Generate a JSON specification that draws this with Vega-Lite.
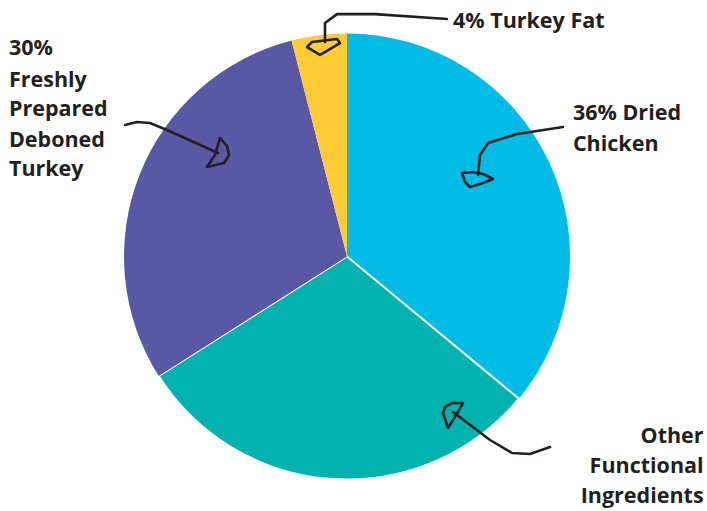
{
  "$schema": "https://vega.github.io/schema/vega-lite/v6.json",
  "autosize": {"type": "fit", "contains": "padding"},
  "width": 707,
  "height": 511,
  "padding": 0,
  "background": "white",
  "config": {"view": {"stroke": null}},
  "datasets": {
    "slices": [
      {"k": "Chicken", "v": 36, "o": 1},
      {"k": "Other", "v": 30, "o": 2},
      {"k": "Turkey", "v": 30, "o": 3},
      {"k": "Fat", "v": 4, "o": 4}
    ],
    "stems": [
      {"p": "fat", "i": 1, "x": 44.84, "y": 106.5},
      {"p": "fat", "i": 2, "x": 12.56, "y": 108.7},
      {"p": "fat", "i": 3, "x": -4.48, "y": 108.7},
      {"p": "fat", "i": 4, "x": -9.87, "y": 104.7},
      {"p": "fat", "i": 5, "x": -9.87, "y": 96.2},
      {"p": "chk", "i": 1, "x": 96.86, "y": 58.07},
      {"p": "chk", "i": 2, "x": 76.23, "y": 54.93},
      {"p": "chk", "i": 3, "x": 63.23, "y": 50.9},
      {"p": "chk", "i": 4, "x": 59.64, "y": 45.52},
      {"p": "chk", "i": 5, "x": 58.74, "y": 36.55},
      {"p": "tur", "i": 1, "x": -99.55, "y": 58.97},
      {"p": "tur", "i": 2, "x": -94.17, "y": 60.31},
      {"p": "tur", "i": 3, "x": -88.34, "y": 59.87},
      {"p": "tur", "i": 4, "x": -80.72, "y": 56.73},
      {"p": "tur", "i": 5, "x": -57.85, "y": 46.41},
      {"p": "oth", "i": 1, "x": 91.03, "y": -85.43},
      {"p": "oth", "i": 2, "x": 82.06, "y": -88.57},
      {"p": "oth", "i": 3, "x": 73.99, "y": -88.12},
      {"p": "oth", "i": 4, "x": 64.13, "y": -82.29},
      {"p": "oth", "i": 5, "x": 47.53, "y": -69.73}
    ],
    "loops": [
      {"p": "fat", "i": 1, "x": -17.94, "y": 93.9},
      {"p": "fat", "i": 2, "x": -15.7, "y": 96.2},
      {"p": "fat", "i": 3, "x": -4.48, "y": 97.5},
      {"p": "fat", "i": 4, "x": -3.14, "y": 95.7},
      {"p": "fat", "i": 5, "x": -12.11, "y": 90.4},
      {"p": "chk", "i": 1, "x": 51.57, "y": 37.44},
      {"p": "chk", "i": 2, "x": 56.5, "y": 37.89},
      {"p": "chk", "i": 3, "x": 60.99, "y": 37.0},
      {"p": "chk", "i": 4, "x": 65.47, "y": 34.75},
      {"p": "chk", "i": 5, "x": 60.99, "y": 32.96},
      {"p": "chk", "i": 6, "x": 55.16, "y": 31.17},
      {"p": "chk", "i": 7, "x": 52.91, "y": 33.41},
      {"p": "tur", "i": 1, "x": -62.78, "y": 40.13},
      {"p": "tur", "i": 2, "x": -59.19, "y": 45.52},
      {"p": "tur", "i": 3, "x": -56.95, "y": 53.14},
      {"p": "tur", "i": 4, "x": -53.81, "y": 49.55},
      {"p": "tur", "i": 5, "x": -52.91, "y": 45.52},
      {"p": "tur", "i": 6, "x": -55.16, "y": 41.93},
      {"p": "oth", "i": 1, "x": 45.29, "y": -76.91},
      {"p": "oth", "i": 2, "x": 43.05, "y": -70.18},
      {"p": "oth", "i": 3, "x": 43.95, "y": -67.49},
      {"p": "oth", "i": 4, "x": 47.09, "y": -65.7},
      {"p": "oth", "i": 5, "x": 52.02, "y": -65.7},
      {"p": "oth", "i": 6, "x": 49.78, "y": -69.73}
    ],
    "leftText": [
      {"t": "4% Turkey Fat", "x": 47.5, "y": 102.5},
      {"t": "36% Dried", "x": 101.3, "y": 61.2},
      {"t": "Chicken", "x": 101.3, "y": 47.1},
      {"t": "30%", "x": -151.6, "y": 90.4},
      {"t": "Freshly", "x": -151.6, "y": 76.2},
      {"t": "Prepared", "x": -151.6, "y": 62.8},
      {"t": "Deboned", "x": -151.6, "y": 49.3},
      {"t": "Turkey", "x": -151.6, "y": 35.9}
    ],
    "rightText": [
      {"t": "Other", "x": 159.9, "y": -83.6},
      {"t": "Functional\u00a0\u00a0", "x": 159.9, "y": -97.3},
      {"t": "Ingredients", "x": 159.9, "y": -110.5}
    ]
  },
  "layer": [
    {
      "data": {"name": "slices"},
      "mark": {"type": "arc", "outerRadius": 223, "stroke": "white"},
      "encoding": {
        "theta": {"field": "v", "type": "quantitative", "stack": true},
        "order": {"field": "o", "type": "quantitative"},
        "x": {"datum": 0, "type": "quantitative", "scale": {"domain": [-155.61, 161.43], "nice": false, "zero": false}, "axis": null},
        "y": {"datum": 0, "type": "quantitative", "scale": {"domain": [-114.13, 115.02], "nice": false, "zero": false}, "axis": null},
        "color": {
          "field": "k",
          "type": "nominal",
          "scale": {"domain": ["Chicken", "Other", "Turkey", "Fat"], "range": ["#00BCE6", "#00B3AE", "#5A57A5", "#FFCB33"]},
          "legend": null
        },
        "strokeWidth": {"condition": {"test": "datum.k === 'Other'", "value": 2}, "value": 0}
      }
    },
    {
      "data": {"name": "stems"},
      "mark": {"type": "line", "color": "#231F20", "strokeWidth": 2.6, "strokeJoin": "round", "strokeCap": "round"},
      "encoding": {
        "x": {"field": "x", "type": "quantitative"},
        "y": {"field": "y", "type": "quantitative"},
        "detail": {"field": "p"},
        "order": {"field": "i", "type": "quantitative"}
      }
    },
    {
      "data": {"name": "loops"},
      "mark": {"type": "line", "color": "#231F20", "strokeWidth": 2.6, "strokeJoin": "round", "interpolate": "linear-closed"},
      "encoding": {
        "x": {"field": "x", "type": "quantitative"},
        "y": {"field": "y", "type": "quantitative"},
        "detail": {"field": "p"},
        "order": {"field": "i", "type": "quantitative"}
      }
    },
    {
      "data": {"name": "leftText"},
      "mark": {"type": "text", "align": "left", "baseline": "alphabetic", "font": "Open Sans", "fontWeight": "bold", "fontSize": 21.5, "color": "#231F20"},
      "encoding": {
        "x": {"field": "x", "type": "quantitative"},
        "y": {"field": "y", "type": "quantitative"},
        "text": {"field": "t"}
      }
    },
    {
      "data": {"name": "rightText"},
      "mark": {"type": "text", "align": "right", "baseline": "alphabetic", "font": "Open Sans", "fontWeight": "bold", "fontSize": 21.5, "color": "#231F20"},
      "encoding": {
        "x": {"field": "x", "type": "quantitative"},
        "y": {"field": "y", "type": "quantitative"},
        "text": {"field": "t"}
      }
    }
  ]
}
